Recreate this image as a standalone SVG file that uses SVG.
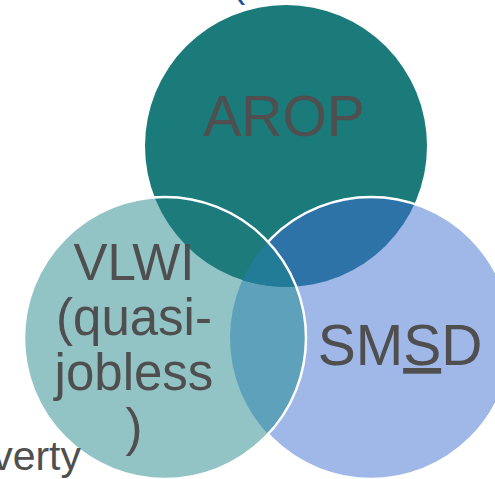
<svg xmlns="http://www.w3.org/2000/svg" width="495" height="479" viewBox="0 0 495 479">
<style>
.lbl{font-family:"Liberation Sans",Arial,sans-serif;fill:#4F4F4F;text-anchor:middle}
.edge{fill:none;stroke:#FFFFFF;stroke-width:2.5}
</style>
<defs>
<clipPath id="cTop"><circle cx="286" cy="146" r="141"/></clipPath>
<clipPath id="cLeft"><circle cx="165" cy="338" r="141"/></clipPath>
<clipPath id="cRight"><circle cx="371" cy="338" r="141"/></clipPath>
<mask id="notLeft"><rect width="495" height="479" fill="#fff"/><circle cx="165" cy="338" r="141" fill="#000"/></mask>
</defs>
<rect width="495" height="479" fill="#FFFFFF"/>
<text x="232" y="-3" font-family="Liberation Sans,Arial,sans-serif" font-size="40" fill="#1F4FA0">(</text>
<g id="node-arop">
<circle cx="286" cy="146" r="141" fill="#1B7A7A"/>
</g>
<g id="node-smsd">
<circle cx="371" cy="338" r="141" fill="#A0B8E8"/>
</g>
<g id="node-vlwi">
<circle cx="165" cy="338" r="141" fill="#92C4C6"/>
</g>
<g id="overlaps">
<circle cx="371" cy="338" r="141" fill="#2D73A8" clip-path="url(#cTop)"/>
<circle cx="371" cy="338" r="141" fill="#5EA1BA" clip-path="url(#cLeft)"/>
<circle cx="165" cy="338" r="141" fill="#1D7B7C" clip-path="url(#cTop)"/>
<g clip-path="url(#cTop)"><circle cx="371" cy="338" r="141" fill="#237C97" clip-path="url(#cLeft)"/></g>
</g>
<g id="edges">
<circle class="edge" cx="371" cy="338" r="141" mask="url(#notLeft)"/>
<circle class="edge" cx="165" cy="338" r="141"/>
</g>
<text class="lbl" x="284" y="136" font-size="57">AROP</text>
<text class="lbl" font-size="51"><tspan x="134" y="280">VLWI</tspan><tspan x="134" y="335">(quasi-</tspan><tspan x="134" y="390">jobless</tspan><tspan x="134" y="445">)</tspan></text>
<text class="lbl" x="400" y="365" font-size="57">SM<tspan text-decoration="underline">S</tspan>D</text>
<text x="81" y="470" font-family="Liberation Sans,Arial,sans-serif" font-size="41" fill="#4F4F4F" text-anchor="end">Poverty</text>
</svg>
